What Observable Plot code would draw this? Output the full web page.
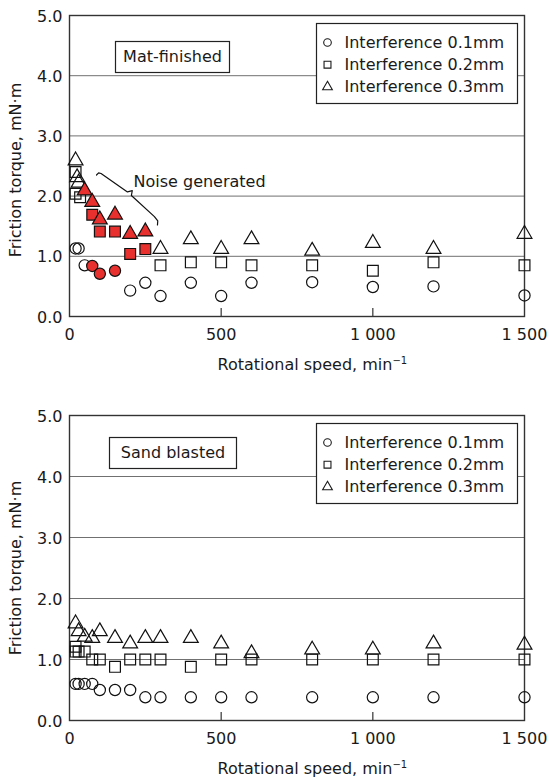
<!DOCTYPE html>
<html><head><meta charset="utf-8">
<script src="https://cdn.jsdelivr.net/npm/d3@7"></script>
<script src="https://cdn.jsdelivr.net/npm/@observablehq/plot@0.6"></script>
<style>
body{margin:0;background:#fff;font-family:"DejaVu Sans",sans-serif;}
#chart svg{display:block;}
</style></head><body><div id="chart"></div>
<script>
// ---- shared ticks / labels ----
const xTicks = [0, 500, 1000, 1500];
const xTickLabels = ["0", "500", "1 000", "1 500"];
const yTicks = [0, 1, 2, 3, 4, 5];
const yTickLabels = ["0.0", "1.0", "2.0", "3.0", "4.0", "5.0"];
const gridValues = [1, 2, 3, 4];
const seriesNames = ["Interference 0.1mm", "Interference 0.2mm", "Interference 0.3mm"];
const seriesSymbols = ["circle", "square", "triangle"];
const xLabel = "Rotational speed, min";
const xLabelSup = "\u22121";
const yLabel = "Friction torque, mN\u00b7m";

// ---- Mat-finished panel ----
const matSpeed01 = [20, 30, 50, 75, 100, 150, 200, 250, 300, 400, 500, 600, 800, 1000, 1200, 1500];
const matTorque01 = [1.13, 1.13, 0.85, 0.84, 0.71, 0.76, 0.43, 0.56, 0.34, 0.56, 0.34, 0.56, 0.57, 0.49, 0.50, 0.35];
const matNoise01 = [0, 0, 0, 1, 1, 1, 0, 0, 0, 0, 0, 0, 0, 0, 0, 0];
const matSpeed02 = [20, 20, 35, 75, 100, 150, 200, 250, 300, 400, 500, 600, 800, 1000, 1200, 1500];
const matTorque02 = [2.40, 2.04, 1.98, 1.69, 1.41, 1.41, 1.04, 1.12, 0.85, 0.90, 0.90, 0.85, 0.85, 0.76, 0.90, 0.85];
const matNoise02 = [0, 0, 0, 1, 1, 1, 1, 1, 0, 0, 0, 0, 0, 0, 0, 0];
const matSpeed03 = [20, 25, 30, 50, 75, 100, 150, 200, 250, 300, 400, 500, 600, 800, 1000, 1200, 1500];
const matTorque03 = [2.59, 2.31, 2.22, 2.09, 1.90, 1.61, 1.69, 1.37, 1.41, 1.12, 1.28, 1.12, 1.28, 1.09, 1.22, 1.12, 1.37];
const matNoise03 = [0, 0, 0, 1, 1, 1, 1, 1, 1, 0, 0, 0, 0, 0, 0, 0, 0];

// annotation (data units)
const noiseLabel = "Noise generated";
const noiseLabelX = 211;
const noiseLabelY = 2.23;
const braceX = [89, 96, 104, 191, 207, 204, 280, 291, 290];
const braceY = [2.35, 2.385, 2.375, 2.07, 2.09, 2.01, 1.66, 1.59, 1.52];

// ---- Sand blasted panel ----
const sandSpeed01 = [20, 30, 50, 75, 100, 150, 200, 250, 300, 400, 500, 600, 800, 1000, 1200, 1500];
const sandTorque01 = [0.60, 0.60, 0.60, 0.60, 0.50, 0.50, 0.50, 0.38, 0.38, 0.38, 0.38, 0.38, 0.38, 0.38, 0.38, 0.38];
const sandSpeed02 = [20, 20, 30, 50, 75, 100, 150, 200, 250, 300, 400, 500, 600, 800, 1000, 1200, 1500];
const sandTorque02 = [1.21, 1.13, 1.13, 1.13, 1.00, 1.00, 0.88, 1.00, 1.00, 1.00, 0.88, 1.00, 1.00, 1.00, 1.00, 1.00, 1.00];
const sandSpeed03 = [20, 30, 50, 75, 100, 150, 200, 250, 300, 400, 500, 600, 800, 1000, 1200, 1500];
const sandTorque03 = [1.59, 1.46, 1.37, 1.35, 1.46, 1.35, 1.26, 1.35, 1.35, 1.35, 1.26, 1.10, 1.16, 1.16, 1.26, 1.24];

const RED = "#e8312f";
const INK = "#1a1a1a";
const symbolR = {circle: 5.6, square: 6.1, triangle: 5.5};
const legendR = {circle: 3.8, square: 3.9, triangle: 3.6};

function rows(xs, ys, noise) {
  return xs.map((x, i) => ({x, y: ys[i], noise: noise ? noise[i] === 1 : false}));
}

function panel({title, titleBox, series, height, marginTop, marginBottom, annotations, yLabelDy}) {
  const W = 550, mL = 69, mR = 26;
  const ph = height - marginTop - marginBottom;
  const marks = [
    Plot.ruleY(gridValues, {stroke: "#707070", strokeWidth: 1}),
    Plot.ruleX(xTicks.slice(1, -1), {insetTop: ph - 8, stroke: "#333", strokeWidth: 1.2}),
    Plot.frame({stroke: "#333", strokeWidth: 1.4}),
  ];
  if (annotations) marks.push(...annotations);
  series.forEach((s, k) => {
    marks.push(Plot.dot(s.data, {
      x: "x", y: "y", symbol: seriesSymbols[k], r: symbolR[seriesSymbols[k]],
      fill: d => d.noise ? RED : "none", stroke: "#111", strokeWidth: 1.2
    }));
  });
  // legend box
  marks.push(Plot.frame({fill: "white", stroke: "#222", strokeWidth: 1.2,
    insetLeft: 247, insetRight: 7, insetTop: 8, insetBottom: ph - 88}));
  seriesNames.forEach((name, k) => {
    const dy = 27 + k * 22.2;
    marks.push(Plot.dot([name], {frameAnchor: "top-right", dx: -197, dy,
      symbol: seriesSymbols[k], r: legendR[seriesSymbols[k]], stroke: INK, strokeWidth: 1.1, fill: "none"}));
    marks.push(Plot.text([name], {frameAnchor: "top-right", dx: -180, dy, text: d => d,
      textAnchor: "start", lineAnchor: "middle", fill: INK, fontSize: 16}));
  });
  // title box
  marks.push(Plot.frame({fill: "white", stroke: "#222", strokeWidth: 1.2,
    insetLeft: titleBox.left, insetRight: titleBox.right, insetTop: titleBox.top, insetBottom: ph - titleBox.top - titleBox.h}));
  marks.push(Plot.text([title], {frameAnchor: "top-left",
    dx: (W - mL - mR - titleBox.left - titleBox.right) / 2 + titleBox.left,
    dy: titleBox.top + titleBox.h / 2, text: d => d, textAnchor: "middle", lineAnchor: "middle", fill: INK, fontSize: 16}));
  // axes
  marks.push(Plot.axisX(xTicks, {tickSize: 0, tickPadding: 12, tickFormat: d => xTickLabels[xTicks.indexOf(d)], fill: INK, label: null}));
  marks.push(Plot.axisY(yTicks, {tickSize: 0, tickPadding: 7, dy: 1, tickFormat: d => yTickLabels[yTicks.indexOf(d)], fill: INK, label: null}));
  // axis titles
  marks.push(Plot.text([xLabel], {frameAnchor: "bottom-left", dx: 148, dy: 48, textAnchor: "start", lineAnchor: "middle", text: d => d, fill: INK, fontSize: 16}));
  marks.push(Plot.text([yLabel], {frameAnchor: "left", dx: -54, dy: yLabelDy, rotate: -90, textAnchor: "middle", lineAnchor: "middle", text: d => d, fill: INK, fontSize: 16}));

  const svg = Plot.plot({
    width: W, height, marginLeft: mL, marginRight: mR, marginTop, marginBottom,
    style: {fontFamily: "DejaVu Sans, sans-serif", fontSize: "16px", color: INK, background: "white"},
    x: {domain: [0, 1500], axis: null},
    y: {domain: [0, 5], axis: null},
    marks
  });
  d3.select(svg).selectAll("text").filter(function() { return this.textContent === xLabel; })
    .append("tspan").attr("dy", "-0.6em").attr("font-size", "10px").text(xLabelSup);
  return svg;
}

const matSeries = [
  {data: rows(matSpeed01, matTorque01, matNoise01)},
  {data: rows(matSpeed02, matTorque02, matNoise02)},
  {data: rows(matSpeed03, matTorque03, matNoise03)}
];
const sandSeries = [
  {data: rows(sandSpeed01, sandTorque01)},
  {data: rows(sandSpeed02, sandTorque02)},
  {data: rows(sandSpeed03, sandTorque03)}
];

const braceData = braceX.map((x, i) => ({x, y: braceY[i]}));
const matAnnotations = [
  Plot.line(braceData, {x: "x", y: "y", stroke: "#111", strokeWidth: 1.2}),
  Plot.text([noiseLabel], {x: () => noiseLabelX, y: () => noiseLabelY, text: d => d, textAnchor: "start", lineAnchor: "middle", fill: INK, fontSize: 16})
];

const chart = document.getElementById("chart");
chart.append(panel({
  title: "Mat-finished", titleBox: {left: 46, right: 295, top: 26, h: 31},
  series: matSeries, height: 390, marginTop: 15, marginBottom: 74,
  annotations: matAnnotations, yLabelDy: 4
}));
chart.append(panel({
  title: "Sand blasted", titleBox: {left: 40, right: 288, top: 22, h: 31},
  series: sandSeries, height: 390, marginTop: 25, marginBottom: 60, yLabelDy: 0
}));
</script></body></html>
